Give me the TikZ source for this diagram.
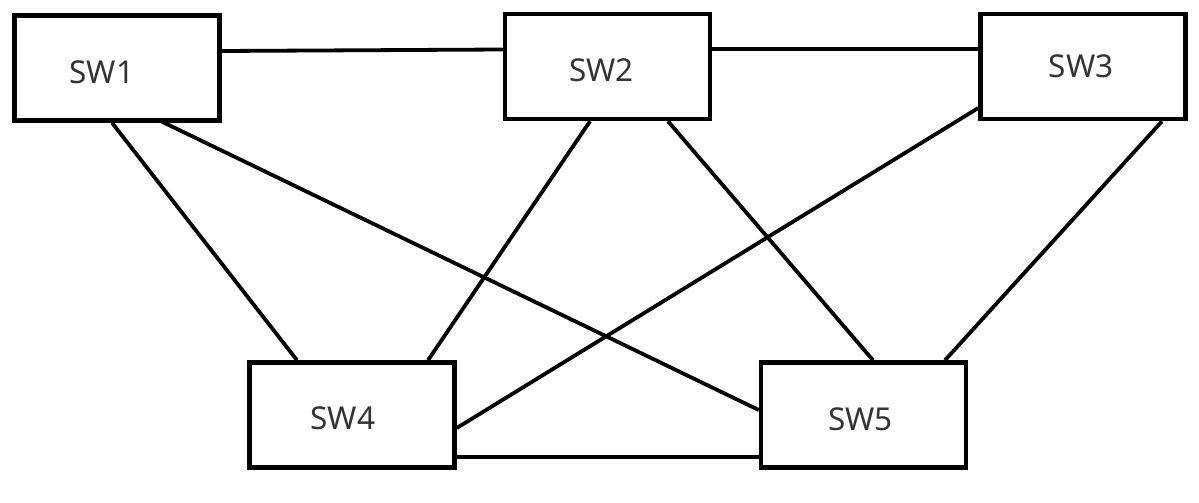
\documentclass[tikz,border=0pt]{standalone}
\usepackage{fontspec}
\setmainfont{Noto Sans}
\begin{document}
\begin{tikzpicture}[x=1pt,y=-1pt,
  sw/.style={draw=black,line width=4.5pt,minimum width=205pt,minimum height=105pt,inner sep=0pt},
  swtext/.style={font=\fontsize{31.5}{36}\selectfont,text=black!80,inner sep=0pt},
  link/.style={draw=black,line width=3.8pt}]
\path[use as bounding box] (0,0) rectangle (1199,503);
\node[sw,label={[swtext,xshift=-15pt,yshift=-4pt]center:SW1}] (sw1) at (117,68) {};
\node[sw,label={[swtext,xshift=-6pt,yshift=-4pt]center:SW2}] (sw2) at (607.5,66.5) {};
\node[sw,label={[swtext,xshift=-2pt,yshift=0pt]center:SW3}] (sw3) at (1083,66.5) {};
\node[sw,label={[swtext,xshift=-9pt,yshift=-3pt]center:SW4}] (sw4) at (352,415) {};
\node[sw,label={[swtext,xshift=-3pt,yshift=-4pt]center:SW5}] (sw5) at (863.5,415) {};
\draw[link] ([yshift=17pt]sw1.east) -- ([yshift=17pt]sw2.west);
\draw[link] ([yshift=17.5pt]sw2.east) -- ([yshift=17.5pt,xshift=4pt]sw3.west);
\draw[link] ([xshift=-5pt]sw1.south) -- ([xshift=-55pt]sw4.north);
\draw[link] ([xshift=43pt,yshift=2pt]sw1.south) -- ([yshift=5pt]sw5.west);
\draw[link] ([xshift=-17.5pt]sw2.south) -- ([xshift=76pt]sw4.north);
\draw[link] ([xshift=60.5pt]sw2.south) -- ([xshift=9.5pt]sw5.north);
\draw[link] ([yshift=-41.5pt]sw3.west) -- ([yshift=-13pt]sw4.east);
\draw[link] ([xshift=79pt]sw3.south) -- ([xshift=81.5pt]sw5.north);
\draw[link] ([yshift=-42pt]sw4.east) -- ([yshift=-42pt]sw5.west);
\end{tikzpicture}
\end{document}
